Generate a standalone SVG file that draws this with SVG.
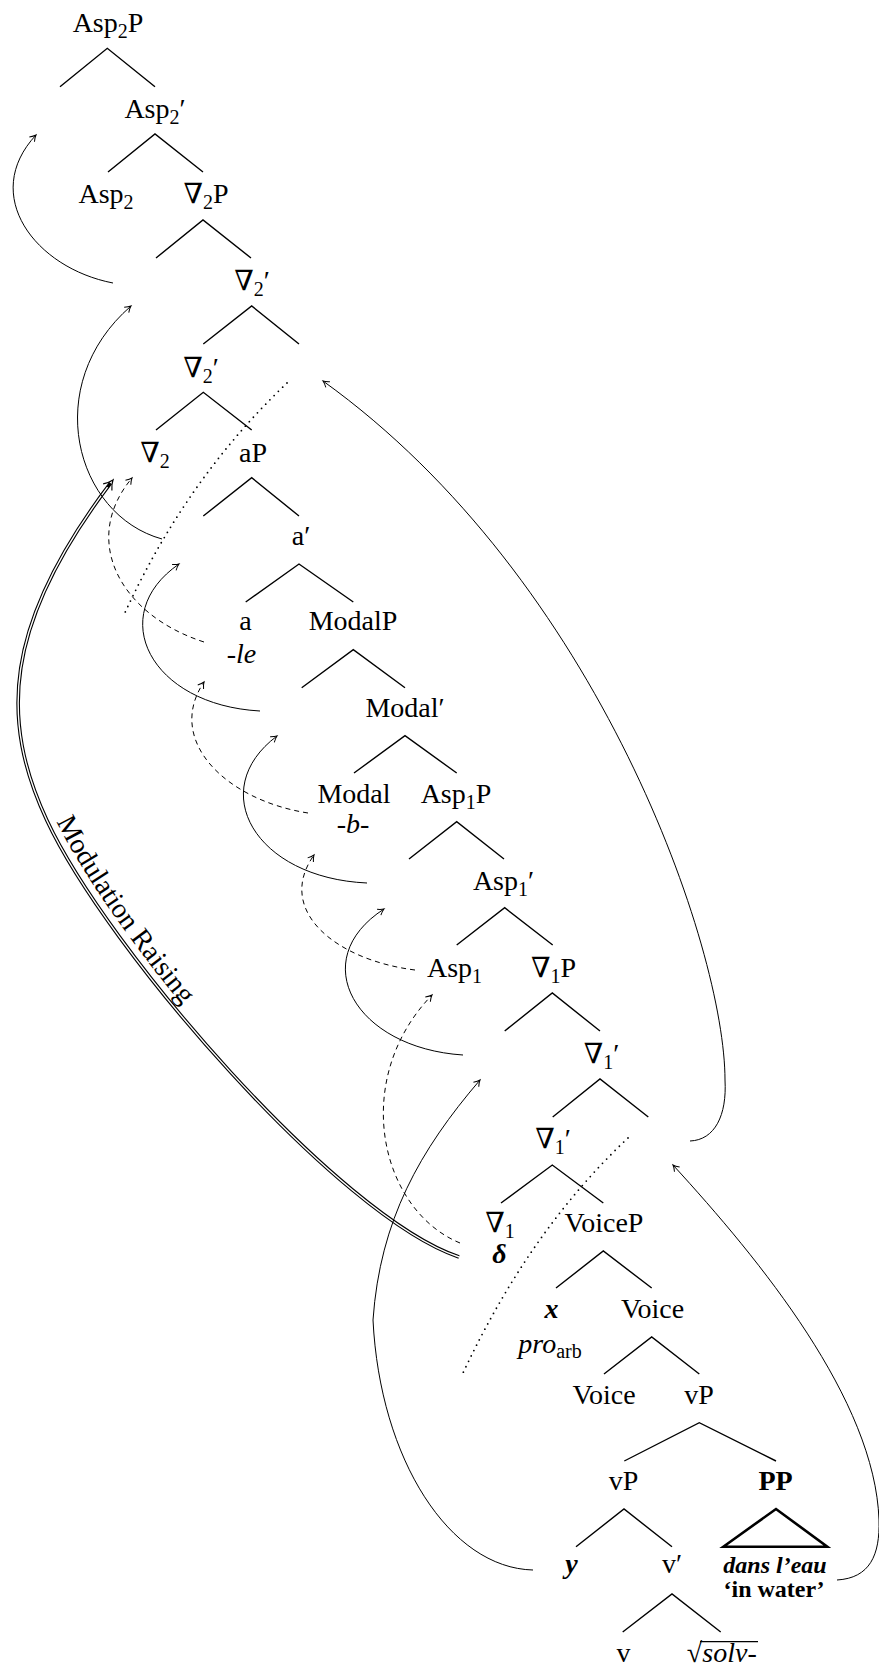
<svg xmlns="http://www.w3.org/2000/svg" width="879" height="1673" viewBox="0 0 879 1673">
<style>
.t{font-family:"Liberation Serif","DejaVu Serif",serif;font-size:28px;text-anchor:middle;fill:#000}
.s{font-size:20px}
.it{font-style:italic}
.b{font-weight:bold}
.sm{font-size:24px}
.br{fill:none;stroke:#000;stroke-width:1.4}
.c{fill:none;stroke:#000;stroke-width:1}
.d{stroke-dasharray:5 4}
.dot{stroke-dasharray:0 6;stroke-linecap:round;stroke-width:1.8}
</style>
<defs>
<marker id="ah" viewBox="-8 -5 10 10" refX="0" refY="0" markerWidth="10" markerHeight="10" orient="auto" markerUnits="userSpaceOnUse">
<path d="M -6 -3.5 Q -2.5 -0.8 0 0 Q -2.5 0.8 -6 3.5" fill="none" stroke="#000" stroke-width="1" stroke-dasharray="none"/>
</marker>
<marker id="ah2" viewBox="-11 -7 13 14" refX="0" refY="0" markerWidth="13" markerHeight="14" orient="auto" markerUnits="userSpaceOnUse">
<path d="M -9 -5.5 Q -4 -1.2 0 0 Q -4 1.2 -9 5.5" fill="none" stroke="#000" stroke-width="1.2"/>
</marker>
<path id="mrp" d="M 54 816 C 114 945, 341 1209, 461 1249"/>
</defs>

<g id="connectors">
<!-- tree branches -->
<path class="br" d="M60 86.7 L107.3 48.3 L155 86.7"/>
<path class="br" d="M108 172 L155 134 L203 172"/>
<path class="br" d="M156 258 L203 220 L251 258"/>
<path class="br" d="M203.3 344 L251.7 306 L299 344"/>
<path class="br" d="M156 430 L203.3 392.3 L251.7 430"/>
<path class="br" d="M203.3 516 L251.7 477.7 L299 516"/>
<path class="br" d="M245.7 602 L299 564 L353.3 602"/>
<path class="br" d="M301.7 687.7 L353.3 649.7 L405 687.7"/>
<path class="br" d="M354 773 L405 735.7 L456.7 773"/>
<path class="br" d="M409 859 L456.7 821.7 L504 859"/>
<path class="br" d="M456.7 945 L504.7 907.7 L552.7 945"/>
<path class="br" d="M504.7 1031 L552.3 993 L600 1031"/>
<path class="br" d="M552.7 1117 L600 1079 L648.3 1117"/>
<path class="br" d="M501 1203 L552.3 1165 L603.3 1203"/>
<path class="br" d="M556 1288 L603.3 1251 L651.7 1288"/>
<path class="br" d="M604 1374 L651.7 1337 L699.3 1374"/>
<path class="br" d="M624.3 1461 L699.3 1422.7 L776 1461"/>
<path class="br" d="M576 1546.7 L624 1509 L672 1546.7"/>
<path class="br" d="M622.7 1632 L672 1594 L720.7 1632"/>
<path d="M723.3 1546.7 L776 1509 L827.3 1546.7 Z" fill="none" stroke="#000" stroke-width="2.6" stroke-linejoin="miter"/>
<line x1="700" y1="1641.7" x2="758" y2="1641.7" stroke="#000" stroke-width="1.2"/>

<!-- double line: Modulation Raising -->
<path d="M 459 1257 C 339 1217, 106.7 949, 46.7 820 C 0.2 720, 2.6 624, 113 480" fill="none" stroke="#000" stroke-width="3.6" pathLength="1000" stroke-dasharray="996 1000" marker-end="url(#ah2)"/>
<path d="M 459 1257 C 339 1217, 106.7 949, 46.7 820 C 0.2 720, 2.6 624, 113 480" fill="none" stroke="#fff" stroke-width="1.4" pathLength="1000" stroke-dasharray="991 1000"/>

<!-- solid movement arrows -->
<path class="c" d="M 113 283 C 35 268, -20 195, 36 135" marker-end="url(#ah)"/>
<path class="c" d="M 162 539 C 75 515, 40 385, 131 306" marker-end="url(#ah)"/>
<path class="c" d="M 260 711 C 150 705, 105 615, 179 564" marker-end="url(#ah)"/>
<path class="c" d="M 367 883 C 255 878, 205 790, 277 736" marker-end="url(#ah)"/>
<path class="c" d="M 463 1055 C 355 1048, 305 960, 384 909" marker-end="url(#ah)"/>
<path class="c" d="M 533 1570 C 450 1568, 380 1460, 373 1320 C 380 1220, 420 1150, 480 1080" marker-end="url(#ah)"/>
<path class="c" d="M 837 1580 C 870 1578, 880 1555, 879 1520 C 875 1400, 760 1260, 673 1165" marker-end="url(#ah)"/>
<path class="c" d="M 690 1141 C 715 1140, 727 1115, 725 1080 C 725 950, 600 580, 323 381" marker-end="url(#ah)"/>

<!-- dashed head movement -->
<path class="c d" d="M 204 642 C 120 615, 80 540, 132 478" marker-end="url(#ah)"/>
<path class="c d" d="M 308 813 C 225 800, 165 740, 204 682" marker-end="url(#ah)"/>
<path class="c d" d="M 415 970 C 335 960, 275 910, 314 855" marker-end="url(#ah)"/>
<path class="c d" d="M 460 1243 C 380 1210, 350 1080, 432 995" marker-end="url(#ah)"/>

<!-- dotted lines -->
<path class="c dot" d="M 287 383 Q 185 480 123 617"/>
<path class="c dot" d="M 628 1138 Q 530 1230 463 1373"/>
</g>

<g id="label-modulation-raising">
<text class="t" style="text-anchor:start"><textPath href="#mrp" startOffset="6">Modulation Raising</textPath></text>
</g>

<g id="n-asp2p"><text class="t" x="108" y="32">Asp<tspan class="s" dy="6">2</tspan><tspan dy="-6">P</tspan></text></g>
<g id="n-asp2bar"><text class="t" x="155" y="118">Asp<tspan class="s" dy="6">2</tspan><tspan dy="-6">′</tspan></text></g>
<g id="n-asp2"><text class="t" x="106" y="203">Asp<tspan class="s" dy="6">2</tspan></text></g>
<g id="n-nabla2p"><text class="t" x="206" y="203">∇<tspan class="s" dy="6">2</tspan><tspan dy="-6">P</tspan></text></g>
<g id="n-nabla2bar-a"><text class="t" x="252" y="290">∇<tspan class="s" dy="6">2</tspan><tspan dy="-6">′</tspan></text></g>
<g id="n-nabla2bar-b"><text class="t" x="201" y="377">∇<tspan class="s" dy="6">2</tspan><tspan dy="-6">′</tspan></text></g>
<g id="n-nabla2"><text class="t" x="155" y="462">∇<tspan class="s" dy="6">2</tspan></text></g>
<g id="n-ap"><text class="t" x="253" y="462">aP</text></g>
<g id="n-abar"><text class="t" x="301" y="545">a′</text></g>
<g id="n-a"><text class="t" x="245.5" y="630">a</text><text class="t it" x="241.5" y="663">-le</text></g>
<g id="n-modalp"><text class="t" x="353" y="630">ModalP</text></g>
<g id="n-modalbar"><text class="t" x="405" y="717">Modal′</text></g>
<g id="n-modal"><text class="t" x="354" y="803">Modal</text><text class="t it" x="353" y="833">-b-</text></g>
<g id="n-asp1p"><text class="t" x="456" y="803">Asp<tspan class="s" dy="6">1</tspan><tspan dy="-6">P</tspan></text></g>
<g id="n-asp1bar"><text class="t" x="503.5" y="890">Asp<tspan class="s" dy="6">1</tspan><tspan dy="-6">′</tspan></text></g>
<g id="n-asp1"><text class="t" x="454.5" y="977">Asp<tspan class="s" dy="6">1</tspan></text></g>
<g id="n-nabla1p"><text class="t" x="553.5" y="977">∇<tspan class="s" dy="6">1</tspan><tspan dy="-6">P</tspan></text></g>
<g id="n-nabla1bar-a"><text class="t" x="601.5" y="1063">∇<tspan class="s" dy="6">1</tspan><tspan dy="-6">′</tspan></text></g>
<g id="n-nabla1bar-b"><text class="t" x="553" y="1148">∇<tspan class="s" dy="6">1</tspan><tspan dy="-6">′</tspan></text></g>
<g id="n-nabla1"><text class="t" x="500" y="1232">∇<tspan class="s" dy="6">1</tspan></text><text class="t it b" x="499.5" y="1263">δ</text></g>
<g id="n-voicep"><text class="t" x="604" y="1232">VoiceP</text></g>
<g id="n-x"><text class="t it b" x="551.5" y="1318">x</text><text class="t" x="550" y="1353"><tspan class="it">pro</tspan><tspan class="s" dy="5">arb</tspan></text></g>
<g id="n-voicebar"><text class="t" x="652.5" y="1318">Voice</text></g>
<g id="n-voice"><text class="t" x="604" y="1404">Voice</text></g>
<g id="n-vp-a"><text class="t" x="699" y="1404">vP</text></g>
<g id="n-vp-b"><text class="t" x="623.5" y="1490">vP</text></g>
<g id="n-pp"><text class="t b" x="775.5" y="1490">PP</text><text class="t it b sm" x="775" y="1573">dans l’eau</text><text class="t b sm" x="774" y="1597">‘in water’</text></g>
<g id="n-y"><text class="t it b" x="571.5" y="1573">y</text></g>
<g id="n-vbar"><text class="t" x="672" y="1573">v′</text></g>
<g id="n-v"><text class="t" x="623.5" y="1662">v</text></g>
<g id="n-root"><text class="t" style="text-anchor:end" x="702" y="1662">√</text><text class="t it" x="729.5" y="1662">solv-</text></g>
</svg>
